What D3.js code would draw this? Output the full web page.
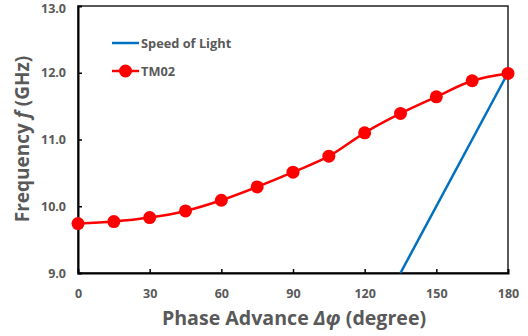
<!DOCTYPE html>
<html><head><meta charset="utf-8">
<script src="https://cdn.jsdelivr.net/npm/d3@7"></script>
<style>body{margin:0;background:#fff}svg{display:block}text{font-family:"Open Sans",sans-serif}</style>
</head><body><svg id="c" width="528" height="336"></svg>
<script>
const phase = [0,15,30,45,60,75,90,105,120,135,150,165,180];
const tm02 = [9.74,9.77,9.83,9.93,10.09,10.29,10.51,10.75,11.10,11.39,11.64,11.88,11.99];
const lightPhase = [135,180];
const lightFreq = [9.0,12.0];
const xTicks = [0,30,60,90,120,150,180];
const yTicks = [9.0,10.0,11.0,12.0,13.0];
const seriesNames = ["Speed of Light","TM02"];

const svg = d3.select("#c");
const L=78,R=508,T=6,B=273;
const x = d3.scaleLinear().domain([0,180]).range([L,R]);
const y = d3.scaleLinear().domain([9,13]).range([B,T]);
const grey="#595959";

svg.append("rect").attr("x",L).attr("y",T).attr("width",R-L).attr("height",B-T)
  .attr("fill","none").attr("stroke","#222").attr("stroke-width",1.5);

const gx = svg.append("g").attr("transform",`translate(0,${B})`)
  .call(d3.axisBottom(x).tickValues(xTicks).tickSize(-4).tickPadding(16).tickFormat(d3.format("d")));
const gy = svg.append("g").attr("transform",`translate(${L},0)`)
  .call(d3.axisLeft(y).tickValues(yTicks).tickSize(-4).tickPadding(12).tickFormat(d3.format(".1f")));
[gx,gy].forEach(g=>{
  g.select(".domain").attr("stroke","#000").attr("stroke-width",2);
  g.selectAll(".tick line").attr("stroke","#000").attr("stroke-width",1.5);
  g.selectAll(".tick text").attr("fill",grey).attr("font-size",12.5).attr("font-weight","bold")
   .attr("font-family","'Open Sans',sans-serif");
});
gx.selectAll(".tick").filter(d=>d===0||d===180).select("line").remove();
gy.selectAll(".tick").filter(d=>d===9||d===13).select("line").remove();
gy.selectAll(".tick").filter(d=>d===13).select("text").attr("dy","0.5em");

const line = d3.line().x(d=>x(d[0])).y(d=>y(d[1]));
svg.append("path").datum(lightPhase.map((p,i)=>[p,lightFreq[i]]))
  .attr("d",line).attr("fill","none").attr("stroke","#0070C0").attr("stroke-width",2.5);

const tmData = phase.map((p,i)=>[p,tm02[i]]);
svg.append("path").datum(tmData).attr("d",d3.line().x(d=>x(d[0])).y(d=>y(d[1])).curve(d3.curveMonotoneX))
  .attr("fill","none").attr("stroke","#FF0000").attr("stroke-width",2.5);
svg.selectAll("circle.m").data(tmData).enter().append("circle")
  .attr("cx",d=>x(d[0])).attr("cy",d=>y(d[1])).attr("r",6.5).attr("fill","#FF0000");

const lg = svg.append("g");
lg.append("line").attr("x1",112).attr("x2",139).attr("y1",43).attr("y2",43).attr("stroke","#0070C0").attr("stroke-width",2.5);
lg.append("text").attr("x",141).attr("y",47.5).text(seriesNames[0]).attr("fill",grey).attr("font-size",12.8).attr("font-weight","bold");
lg.append("line").attr("x1",112).attr("x2",139).attr("y1",71).attr("y2",71).attr("stroke","#FF0000").attr("stroke-width",2.5);
lg.append("circle").attr("cx",125.5).attr("cy",71).attr("r",6.5).attr("fill","#FF0000");
lg.append("text").attr("x",141).attr("y",75.5).text(seriesNames[1]).attr("fill",grey).attr("font-size",12.8).attr("font-weight","bold");

const xt = svg.append("text").attr("x",294).attr("y",325).attr("text-anchor","middle")
  .attr("fill",grey).attr("font-size",19.6).attr("font-weight","bold");
xt.append("tspan").text("Phase Advance ");
xt.append("tspan").attr("font-style","italic").text("Δφ");
xt.append("tspan").text(" (degree)");

const yt = svg.append("text").attr("transform","translate(29,139) rotate(-90)").attr("text-anchor","middle")
  .attr("fill",grey).attr("font-size",19).attr("font-weight","bold");
yt.append("tspan").text("Frequency ");
yt.append("tspan").attr("font-style","italic").text("f");
yt.append("tspan").text(" (GHz)");
</script></body></html>
